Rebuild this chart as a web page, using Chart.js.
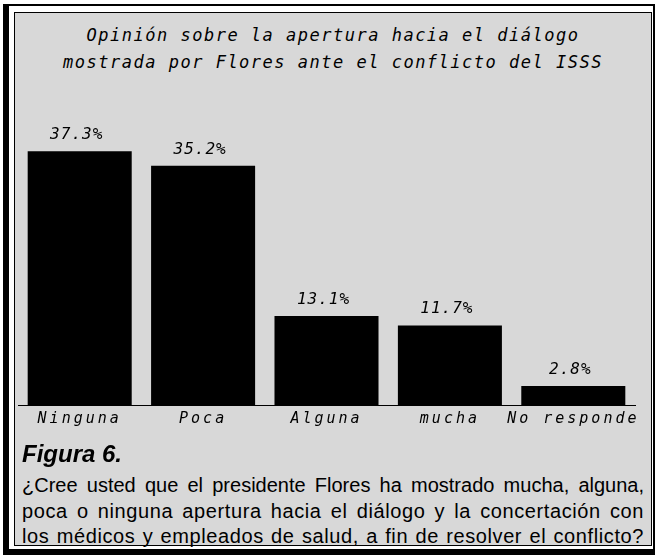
<!DOCTYPE html>
<html>
<head>
<meta charset="utf-8">
<script src="https://cdn.jsdelivr.net/npm/chart.js"></script>
<style>
  html, body { margin: 0; padding: 0; width: 655px; height: 555px; overflow: hidden; background: #fff; }
  .frame { position: absolute; left: 3px; top: 4px; width: 700px; height: 600px; background: #000; }
  .gap { position: absolute; left: 9px; top: 6px; width: 644px; height: 543px; background: #fff; }
  .panel { position: absolute; left: 14px; top: 12px; width: 636px; height: 532px; border: 1px solid #000; background: #d8d8d8; }
  .title { position: absolute; left: 14px; width: 638px; text-align: center; font-family: "DejaVu Sans Mono", monospace; font-style: italic; font-size: 17px; line-height: 20px; letter-spacing: 1.5px; color: #000; }
  #chartWrap { position: absolute; left: 14px; top: 12px; width: 637px; height: 430px; }
  .fig { position: absolute; left: 22px; top: 440px; font-family: "Liberation Sans", Arial, sans-serif; font-weight: bold; font-style: italic; font-size: 24px; line-height: 28px; }
  .para { position: absolute; left: 22px; top: 473px; width: 622px; font-family: "Liberation Sans", Arial, sans-serif; font-size: 20px; line-height: 25.5px; color: #000; }
  .para div { text-align: justify; text-align-last: justify; white-space: nowrap; letter-spacing: 0.6px; }
</style>
</head>
<body>
<div class="frame"></div>
<div class="gap"></div>
<div class="panel"></div>
<div class="title" style="top:25px">Opinión sobre la apertura hacia el diálogo</div>
<div class="title" style="top:52px">mostrada por Flores ante el conflicto del ISSS</div>
<div id="chartWrap"><canvas id="chart" width="637" height="430"></canvas></div>
<div class="fig">Figura 6.</div>
<div class="para">
  <div style="letter-spacing:0px">¿Cree usted que el presidente Flores ha mostrado mucha, alguna,</div>
  <div>poca o ninguna apertura hacia el diálogo y la concertación con</div>
  <div>los médicos y empleados de salud, a fin de resolver el conflicto?</div>
</div>
<script>
// Data
const categories = ['Ninguna', 'Poca', 'Alguna', 'mucha', 'No responde'];
const percentages = [37.3, 35.2, 13.1, 11.7, 2.8];

// Value labels above bars
const valueLabels = {
    id: 'valueLabels',
    afterDatasetsDraw(chart) {
        const ctx = chart.ctx;
        const meta = chart.getDatasetMeta(0);
        ctx.save();
        ctx.letterSpacing = '1px';
        ctx.font = 'italic 16px "DejaVu Sans Mono"';
        ctx.fillStyle = '#000';
        ctx.textAlign = 'center';
        ctx.textBaseline = 'alphabetic';
        meta.data.forEach((bar, i) => {
            ctx.fillText(percentages[i].toFixed(1) + '%', bar.x - 3, bar.y - 12);
        });
        ctx.restore();
    }
};

// Wider spacing for the tick labels
const spacing = {
    id: 'spacing',
    beforeDraw(chart) {
        chart.ctx.letterSpacing = '3px';
    }
};

const ctx = document.getElementById('chart').getContext('2d');
new Chart(ctx, {
    type: 'bar',
    data: {
        labels: categories,
        datasets: [{
            data: percentages,
            backgroundColor: '#000',
            borderWidth: 0,
            categoryPercentage: 1,
            barPercentage: 0.843
        }]
    },
    options: {
        responsive: false,
        animation: false,
        layout: { padding: { left: 4, right: 16, top: 121, bottom: 7 } },
        plugins: {
            legend: { display: false },
            tooltip: { enabled: false }
        },
        scales: {
            y: { display: false, min: 0, max: 40 },
            x: {
                grid: { display: false, drawTicks: false },
                border: { display: true, color: '#000', width: 1 },
                ticks: {
                    color: '#000',
                    padding: 5,
                    autoSkip: false,
                    maxRotation: 0,
                    minRotation: 0,
                    font: { family: 'DejaVu Sans Mono', style: 'italic', size: 15 }
                },
                afterFit(scale) { scale.height = 30; }
            }
        }
    },
    plugins: [spacing, valueLabels]
});
</script>
</body>
</html>
